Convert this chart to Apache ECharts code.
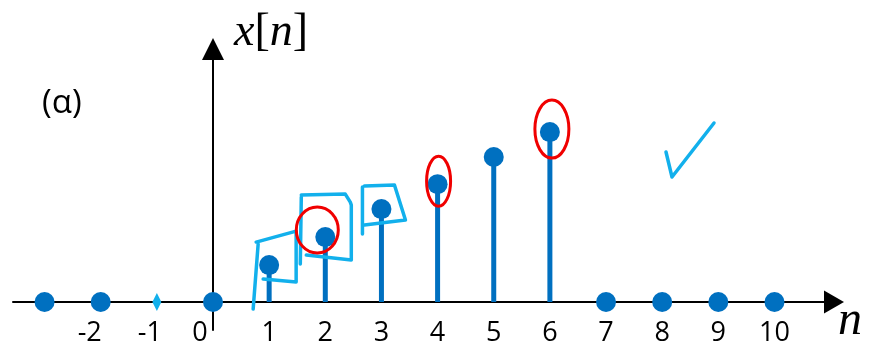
<!DOCTYPE html>
<html>
<head>
<meta charset="utf-8">
<script src="https://cdn.jsdelivr.net/npm/echarts@6/dist/echarts.min.js"></script>
<style>
html,body{margin:0;padding:0;background:#fff;}
#chart{width:878px;height:344px;}
</style>
</head>
<body>
<div id="chart"></div>
<script>
// ---- data ----
const nValues = [-3, -2, -1, 0, 1, 2, 3, 4, 5, 6, 7, 8, 9, 10];
const xValues = [0, 0, 0, 0, 1.32, 2.32, 3.32, 4.21, 5.18, 6.07, 0, 0, 0, 0];
const tickValues = [-2, -1, 0, 1, 2, 3, 4, 5, 6, 7, 8, 9, 10];
const yAxisTitle = 'x[n]';
const xAxisTitle = 'n';
const panelLabel = '(α)';
const markedN = -1;              // sample covered by a light-blue mark
const boxedN = [1, 2, 3];         // light-blue hand-drawn boxes
const circledN = [2, 4, 6];       // red hand-drawn loops

const BLUE = '#0070C0';
const LIGHT = '#12B0EC';
const RED = '#F00000';
const LABEL_FONT = 'Open Sans';

const chart = echarts.init(document.getElementById('chart'), null, {renderer: 'canvas'});

const points = nValues.map((n, i) => {
  const item = {value: [n, xValues[i]]};
  if (n === markedN) {
    item.symbol = 'diamond';
    item.symbolSize = [9, 18];
    item.itemStyle = {color: LIGHT};
  }
  return item;
});

const lab = pad => ({fontSize: 27, fontFamily: LABEL_FONT, color: '#000', padding: [0, pad, 0, 0]});

chart.setOption({
  animation: false,
  grid: {left: 13, right: 44, top: 49, bottom: 14, containLabel: false, outerBoundsMode: 'none'},
  xAxis: [{
    type: 'value', min: -3.562, max: 11.06,
    axisLine: {onZero: true, lineStyle: {color: '#000', width: 2},
      symbol: ['none', 'triangle'], symbolSize: [23, 20]},
    axisTick: {show: false},
    splitLine: {show: false},
    axisLabel: {show: false}
  }, {
    type: 'value', min: -3.562, max: 11.06, position: 'bottom',
    axisLine: {show: false, onZero: false},
    axisTick: {show: false},
    splitLine: {show: false},
    axisLabel: {
      customValues: tickValues,
      margin: -10, color: '#000', fontSize: 27, fontFamily: LABEL_FONT,
      formatter: v => v === 0 ? '{z|0}' : (v === -1 ? '{a|-1}' : (v === -2 ? '{b|-2}' : '{c|' + v + '}')),
      rich: {z: lab(26), a: lab(14), b: lab(22), c: lab(0)}
    }
  }],
  yAxis: {
    type: 'value', min: -1, max: 9.04,
    axisLine: {onZero: true, lineStyle: {color: '#000', width: 2},
      symbol: ['none', 'triangle'], symbolSize: [22, 22]},
    axisTick: {show: false},
    axisLabel: {show: false},
    splitLine: {show: false}
  },
  series: [
    {
      type: 'custom',
      z: 3,
      data: nValues.map((n, i) => [n, xValues[i]]),
      renderItem: (params, api) => {
        const a = api.coord([api.value(0), 0]);
        const b = api.coord([api.value(0), api.value(1)]);
        return {type: 'line', shape: {x1: a[0], y1: a[1], x2: b[0], y2: b[1]},
          style: {stroke: BLUE, lineWidth: 5}};
      }
    },
    {
      type: 'scatter',
      z: 4,
      symbol: 'circle',
      symbolSize: 20,
      itemStyle: {color: BLUE, opacity: 1},
      data: points
    }
  ]
});

function px(n) {
  const i = nValues.indexOf(n);
  return chart.convertToPixel({xAxisIndex: 0, yAxisIndex: 0}, [n, xValues[i]]);
}
function rel(p, offs) { return offs.map(o => [p[0] + o[0], p[1] + o[1]]); }

const boxShapes = {
  1: [[[-13, -23], [27, -34], [27, 17], [-6, 14]], [[-11, -21], [-16, 44]]],
  2: [[[-24, -42], [20, -43], [25, -35], [26, -32], [26, 23], [-19, 18]], [[-24, -40], [-25, 27]]],
  3: [[[-17, -23], [13, -24], [24, 11], [-17, 16]], [[-19, -22], [-19, 25]]]
};
const loopShapes = {
  2: {dx: -8, dy: -7, rx: 21, ry: 23},
  4: {dx: 1, dy: -3, rx: 12, ry: 25},
  6: {dx: 2, dy: -3, rx: 17, ry: 29}
};

const graphics = [];
boxedN.forEach(n => {
  const p = px(n);
  boxShapes[n].forEach(seg => {
    graphics.push({type: 'polyline', z: 10, shape: {points: rel(p, seg)},
      style: {stroke: LIGHT, lineWidth: 3.5, fill: null, lineJoin: 'round', lineCap: 'round'}});
  });
});
circledN.forEach(n => {
  const p = px(n);
  const s = loopShapes[n];
  graphics.push({type: 'ellipse', z: 11,
    shape: {cx: p[0] + s.dx, cy: p[1] + s.dy, rx: s.rx, ry: s.ry},
    style: {stroke: RED, lineWidth: 3, fill: null}});
});
// check mark
graphics.push({type: 'polyline', z: 10, shape: {points: [[666, 152], [672, 177], [714, 123]]},
  style: {stroke: LIGHT, lineWidth: 3.5, fill: null, lineJoin: 'round', lineCap: 'round'}});
// texts
graphics.push({type: 'text', z: 12, x: 234, y: 33, style: {
  text: '{i|x}{r|[}{i|n}{r|]}', verticalAlign: 'middle',
  rich: {
    i: {fontFamily: 'Liberation Serif', fontStyle: 'italic', fontSize: 46, fill: '#000'},
    r: {fontFamily: 'Liberation Serif', fontSize: 46, fill: '#000'}
  }
}});
graphics.push({type: 'text', z: 12, x: 838, y: 321, style: {
  text: xAxisTitle, fontFamily: 'Liberation Serif', fontStyle: 'italic', fontSize: 48,
  fill: '#000', verticalAlign: 'middle'}});
graphics.push({type: 'text', z: 12, x: 42, y: 104, style: {
  text: panelLabel, font: '33px "Open Sans"', fill: '#000', verticalAlign: 'middle'}});

chart.setOption({graphic: graphics});
</script>
</body>
</html>
